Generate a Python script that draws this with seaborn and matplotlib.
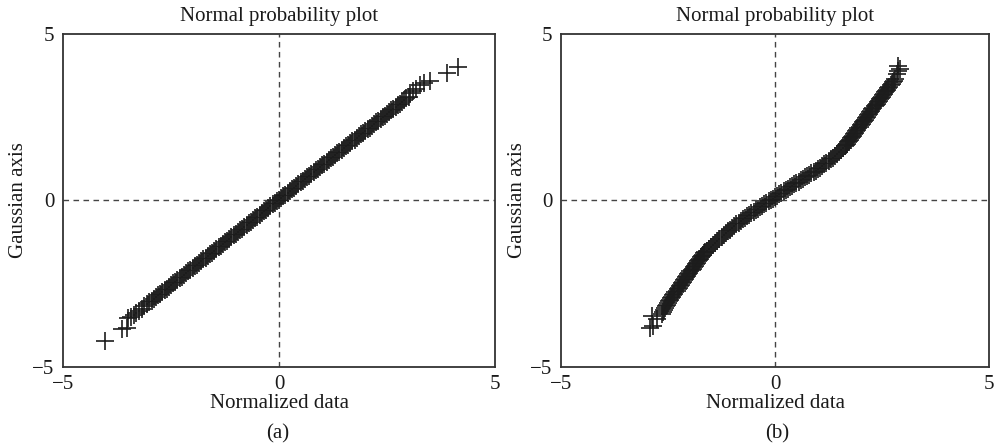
import matplotlib
matplotlib.use("Agg")
import matplotlib.pyplot as plt
import seaborn as sns

# ---------------- data ----------------
x_a = [-4.03, -3.64, -3.53, -3.49,
       -3.42, -3.36, -3.30, -3.24, -3.18, -3.12, -3.06, -3.00, -2.95, -2.90,
       -2.85, -2.80, -2.75, -2.70, -2.65, -2.60, -2.55, -2.50, -2.45, -2.40,
       -2.35, -2.30, -2.25, -2.20, -2.15, -2.10, -2.05, -2.00, -1.95, -1.90,
       -1.85, -1.80, -1.75, -1.70, -1.65, -1.60, -1.55, -1.50, -1.45, -1.40,
       -1.35, -1.30, -1.25, -1.20, -1.15, -1.10, -1.05, -1.00, -0.95, -0.90,
       -0.85, -0.80, -0.75, -0.70, -0.65, -0.60, -0.55, -0.50, -0.45, -0.40,
       -0.35, -0.30, -0.25, -0.20, -0.15, -0.10, -0.05, 0.00, 0.05, 0.10,
       0.15, 0.20, 0.25, 0.30, 0.35, 0.40, 0.45, 0.50, 0.55, 0.60,
       0.65, 0.70, 0.75, 0.80, 0.85, 0.90, 0.95, 1.00, 1.05, 1.10,
       1.15, 1.20, 1.25, 1.30, 1.35, 1.40, 1.45, 1.50, 1.55, 1.60,
       1.65, 1.70, 1.75, 1.80, 1.85, 1.90, 1.95, 2.00, 2.05, 2.10,
       2.15, 2.20, 2.25, 2.30, 2.35, 2.40, 2.45, 2.50, 2.55, 2.60,
       2.65, 2.70, 2.75, 2.80, 2.85, 2.90, 2.95, 3.00,
       3.03, 3.10, 3.18, 3.26, 3.35, 3.50, 3.88, 4.15]
y_a = [-4.22, -3.85, -3.82, -3.52,
       -3.49, -3.43, -3.37, -3.31, -3.25, -3.18, -3.12, -3.06, -3.01, -2.96,
       -2.91, -2.85, -2.80, -2.75, -2.70, -2.65, -2.60, -2.55, -2.49, -2.44,
       -2.39, -2.34, -2.29, -2.24, -2.18, -2.13, -2.08, -2.03, -1.98, -1.93,
       -1.88, -1.82, -1.77, -1.72, -1.67, -1.62, -1.57, -1.52, -1.46, -1.41,
       -1.36, -1.31, -1.26, -1.21, -1.15, -1.10, -1.05, -1.00, -0.95, -0.90,
       -0.85, -0.79, -0.74, -0.69, -0.64, -0.59, -0.54, -0.49, -0.43, -0.38,
       -0.33, -0.28, -0.23, -0.18, -0.12, -0.07, -0.02, 0.03, 0.08, 0.13,
       0.18, 0.24, 0.29, 0.34, 0.39, 0.44, 0.49, 0.55, 0.60, 0.65,
       0.70, 0.75, 0.80, 0.85, 0.91, 0.96, 1.01, 1.06, 1.11, 1.16,
       1.21, 1.27, 1.32, 1.37, 1.42, 1.47, 1.52, 1.58, 1.63, 1.68,
       1.73, 1.78, 1.83, 1.88, 1.94, 1.99, 2.04, 2.09, 2.14, 2.19,
       2.24, 2.30, 2.35, 2.40, 2.45, 2.50, 2.55, 2.61, 2.66, 2.71,
       2.76, 2.81, 2.86, 2.91, 2.97, 3.02, 3.07, 3.12,
       3.22, 3.28, 3.36, 3.46, 3.52, 3.58, 3.83, 4.00]

x_b = [-2.92, -2.88, -2.84, -2.75,
       -2.64, -2.62, -2.60, -2.575, -2.55, -2.525, -2.50, -2.475, -2.45, -2.425,
       -2.40, -2.375, -2.35, -2.325, -2.30, -2.275, -2.25, -2.225, -2.20, -2.175,
       -2.15, -2.125, -2.10, -2.075, -2.05, -2.025, -2.00, -1.975, -1.95, -1.925,
       -1.90, -1.875, -1.85, -1.825, -1.80, -1.775, -1.75, -1.725, -1.70, -1.675,
       -1.65, -1.625, -1.60, -1.55, -1.50, -1.45, -1.40, -1.35, -1.30, -1.25,
       -1.20, -1.15, -1.10, -1.05, -1.00, -0.95, -0.90, -0.85, -0.80, -0.75,
       -0.70, -0.65, -0.60, -0.55, -0.50, -0.45, -0.40, -0.35, -0.30, -0.25,
       -0.20, -0.15, -0.10, -0.05, 0.00, 0.05, 0.10, 0.15, 0.20, 0.25,
       0.30, 0.35, 0.40, 0.45, 0.50, 0.55, 0.60, 0.65, 0.70, 0.75,
       0.80, 0.85, 0.90, 0.95, 1.00, 1.05, 1.10, 1.15, 1.20, 1.25,
       1.30, 1.35, 1.40, 1.45, 1.50, 1.55, 1.60, 1.625, 1.65, 1.675,
       1.70, 1.725, 1.75, 1.775, 1.80, 1.825, 1.85, 1.875, 1.90, 1.925,
       1.95, 1.975, 2.00, 2.025, 2.05, 2.075, 2.10, 2.125, 2.15, 2.175,
       2.20, 2.225, 2.25, 2.275, 2.30, 2.325, 2.35, 2.375, 2.40, 2.425,
       2.45, 2.475, 2.50, 2.525, 2.55, 2.575, 2.60, 2.625, 2.65, 2.675,
       2.70, 2.725, 2.75, 2.775, 2.80,
       2.84, 2.88, 2.88, 2.92]
y_b = [-3.82, -3.47, -3.77, -3.55,
       -3.40, -3.34, -3.29, -3.23, -3.18, -3.13, -3.08, -3.03, -2.99, -2.94,
       -2.90, -2.85, -2.81, -2.76, -2.72, -2.67, -2.63, -2.58, -2.54, -2.49,
       -2.45, -2.40, -2.36, -2.31, -2.27, -2.22, -2.18, -2.13, -2.09, -2.05,
       -2.00, -1.96, -1.92, -1.87, -1.83, -1.79, -1.75, -1.71, -1.67, -1.63,
       -1.59, -1.55, -1.51, -1.45, -1.39, -1.33, -1.27, -1.21, -1.15, -1.10,
       -1.04, -0.99, -0.93, -0.88, -0.82, -0.77, -0.72, -0.67, -0.62, -0.57,
       -0.53, -0.48, -0.44, -0.39, -0.35, -0.30, -0.26, -0.21, -0.17, -0.12,
       -0.08, -0.03, 0.01, 0.06, 0.10, 0.14, 0.19, 0.23, 0.28, 0.32,
       0.36, 0.40, 0.45, 0.49, 0.53, 0.57, 0.61, 0.66, 0.70, 0.74,
       0.78, 0.82, 0.86, 0.90, 0.94, 0.99, 1.04, 1.09, 1.14, 1.19,
       1.24, 1.29, 1.35, 1.41, 1.47, 1.53, 1.59, 1.63, 1.67, 1.71,
       1.75, 1.79, 1.83, 1.87, 1.91, 1.95, 2.00, 2.04, 2.08, 2.13,
       2.17, 2.21, 2.26, 2.30, 2.35, 2.39, 2.43, 2.48, 2.52, 2.57,
       2.61, 2.65, 2.70, 2.74, 2.78, 2.83, 2.87, 2.91, 2.95, 3.00,
       3.04, 3.08, 3.12, 3.16, 3.21, 3.25, 3.29, 3.33, 3.38, 3.42,
       3.47, 3.51, 3.55, 3.60, 3.66,
       3.80, 3.88, 4.03, 3.95]

ticks = [-5, 0, 5]
tick_labels = ["\u22125", "0", "5"]
panel_titles = ["Normal probability plot", "Normal probability plot"]
panel_tags = ["(a)", "(b)"]
xlabel = "Normalized data"
ylabel = "Gaussian axis"

# ---------------- styling ----------------
sns.set_style("white")
plt.rcParams["font.family"] = ["Liberation Serif", "DejaVu Serif"]
FS = 15
plt.rcParams["font.size"] = FS

W, H = 997, 447
fig = plt.figure(figsize=(W / 100, H / 100), dpi=100)

axes_px = [(63, 34, 432, 333), (561, 34, 428, 333)]
tag_x_px = [278, 777]
datasets = [(x_a, y_a), (x_b, y_b)]

mark_color = "#1c1c1c"
for i, (l, t, w, h) in enumerate(axes_px):
    ax = fig.add_axes([l / W, 1 - (t + h) / H, w / W, h / H])
    xs, ys = datasets[i]
    ax.axhline(0, color="#444444", lw=1.0, ls=(0, (4, 3.2)), zorder=1)
    ax.axvline(0, color="#444444", lw=1.0, ls=(0, (4, 3.2)), zorder=1)
    sns.scatterplot(x=xs, y=ys, marker="+", s=165, color=mark_color,
                    linewidth=1.2, ax=ax, zorder=3)
    ax.set_xlim(-5, 5)
    ax.set_ylim(-5, 5)
    ax.set_xticks(ticks)
    ax.set_yticks(ticks)
    ax.set_xticklabels(tick_labels)
    ax.set_yticklabels(tick_labels)
    ax.tick_params(axis="both", length=0, pad=6, labelsize=FS, colors="#1a1a1a")
    for sp in ax.spines.values():
        sp.set_visible(True)
        sp.set_color("#333333")
        sp.set_linewidth(1.3)
    ax.set_title(panel_titles[i], fontsize=FS, pad=9, color="#1a1a1a")
    ax.set_xlabel(xlabel, fontsize=FS, color="#1a1a1a")
    ax.set_ylabel(ylabel, fontsize=FS, color="#1a1a1a")
    ax.xaxis.set_label_coords(0.5, -0.082)
    ax.yaxis.set_label_coords(-0.08, 0.5)
    fig.text(tag_x_px[i] / W, 1 - 434 / H, panel_tags[i], ha="center",
             va="center", fontsize=FS, color="#1a1a1a")

fig.savefig("out.png", dpi=100)
